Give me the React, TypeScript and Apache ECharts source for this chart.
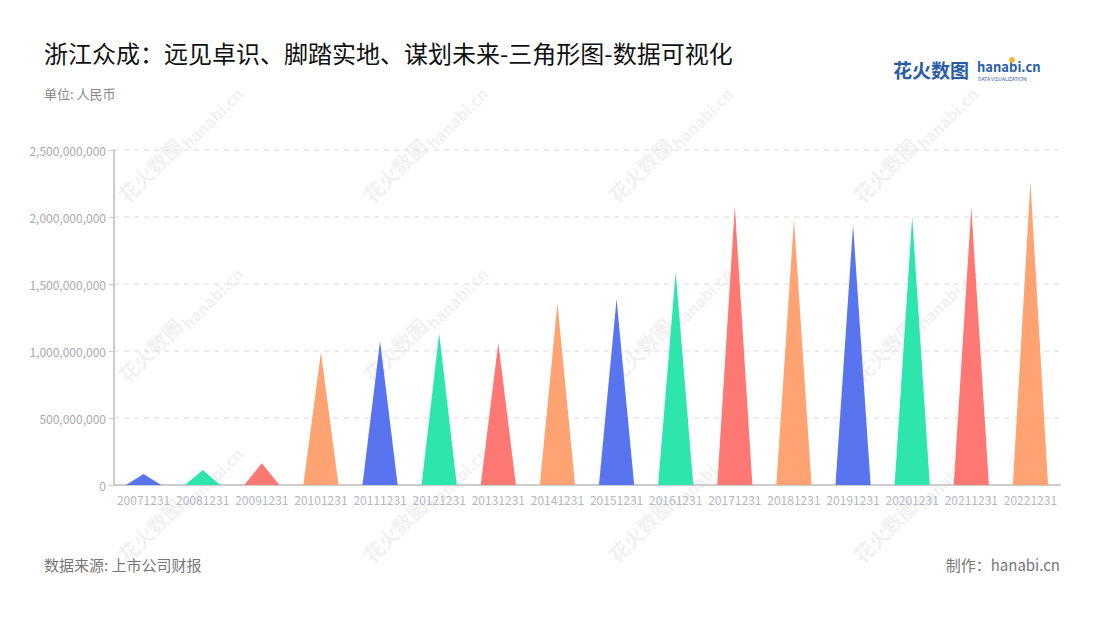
import React, { useEffect, useRef } from "react";
import * as echarts from "echarts";

const categories = [
  "20071231", "20081231", "20091231", "20101231", "20111231", "20121231",
  "20131231", "20141231", "20151231", "20161231", "20171231", "20181231",
  "20191231", "20201231", "20211231", "20221231",
];
const values = [
  82000000, 112000000, 162000000, 990000000, 1075000000, 1132000000,
  1062000000, 1358000000, 1388000000, 1590000000, 2082000000, 1983000000,
  1940000000, 2007000000, 2072000000, 2263000000,
];
const palette = ["#5874EE", "#2EE6AD", "#FF7873", "#FFA372"];

const titleText = "浙江众成：远见卓识、脚踏实地、谋划未来-三角形图-数据可视化";
const unitText = "单位: 人民币";
const sourceText = "数据来源: 上市公司财报";
const makerText = "制作：hanabi.cn";

const FONT = '"Noto Sans CJK SC", "Noto Sans", sans-serif';

function watermarks(): any[] {
  const out: any[] = [];
  const xs = [150, 395, 640, 885];
  const ys = [170, 350, 530];
  for (const x of xs) {
    for (const y of ys) {
      out.push({
        type: "text",
        x,
        y,
        rotation: Math.PI / 4,
        z: 0,
        silent: true,
        style: {
          text: "花火数图",
          fill: "rgba(200,200,200,0.25)",
          font: `bold 20px ${FONT}`,
          align: "center",
          verticalAlign: "middle",
        },
      });
      out.push({
        type: "text",
        x: x + 62,
        y: y - 52,
        rotation: Math.PI / 4,
        z: 0,
        silent: true,
        style: {
          text: "hanabi.cn",
          fill: "rgba(200,200,200,0.25)",
          font: `bold 16px ${FONT}`,
          align: "center",
          verticalAlign: "middle",
        },
      });
    }
  }
  return out;
}

export default function App() {
  const ref = useRef<HTMLDivElement>(null);
  useEffect(() => {
    if (!ref.current) return;
    const chart = echarts.init(ref.current, undefined, { renderer: "svg" });
    chart.setOption({
      animation: false,
      backgroundColor: "#ffffff",
      grid: { left: 114, right: 40, top: 150, bottom: 135 },
      xAxis: {
        type: "category",
        data: categories,
        axisLine: { lineStyle: { color: "#cccccc", width: 2 } },
        axisTick: { alignWithLabel: true, lineStyle: { color: "#cccccc" } },
        axisLabel: { color: "#b4b7c2", fontSize: 12, margin: 8, interval: 0, fontFamily: FONT },
      },
      yAxis: {
        type: "value",
        min: 0,
        max: 2500000000,
        interval: 500000000,
        axisLine: { show: true, lineStyle: { color: "#cccccc", width: 2 } },
        axisTick: { show: true, lineStyle: { color: "#cccccc" } },
        axisLabel: {
          color: "#aaaaaa",
          fontSize: 12,
          fontFamily: FONT,
          formatter: (v: number) => v.toLocaleString("en-US"),
        },
        splitLine: { lineStyle: { color: "#e6e6e6", type: [5, 5], width: 1.5 } },
      },
      series: [
        {
          type: "pictorialBar",
          symbol: "triangle",
          symbolSize: [35, "100%"],
          z: 10,
          data: values.map((v, i) => ({
            value: v,
            itemStyle: { color: palette[i % palette.length] },
          })),
        },
      ],
      graphic: [
        ...watermarks(),
        {
          type: "text",
          left: 44,
          top: 40,
          z: 100,
          style: { text: titleText, fill: "#111111", font: `24px ${FONT}` },
        },
        {
          type: "text",
          left: 44,
          top: 87,
          z: 100,
          style: { text: unitText, fill: "#888888", font: `13px ${FONT}` },
        },
        {
          type: "text",
          left: 44,
          top: 557,
          z: 100,
          style: { text: sourceText, fill: "#777777", font: `15px ${FONT}` },
        },
        {
          type: "text",
          right: 40,
          top: 557,
          z: 100,
          style: { text: makerText, fill: "#777777", font: `15px ${FONT}` },
        },
        {
          type: "text",
          left: 893,
          top: 60,
          z: 100,
          style: { text: "花火数图", fill: "#2a5ca8", font: `bold 19px ${FONT}` },
        },
        {
          type: "text",
          left: 977,
          top: 60,
          z: 100,
          style: { text: "hanabi.cn", fill: "#2a5ca8", font: `bold 13px ${FONT}` },
        },
        {
          type: "text",
          left: 978,
          top: 76,
          z: 100,
          style: { text: "DATA VISUALIZATION", fill: "#2a5ca8", font: `5px ${FONT}` },
        },
        {
          type: "circle",
          shape: { cx: 1012, cy: 60, r: 3 },
          z: 100,
          style: { fill: "#f7b733" },
        },
      ],
    });
    return () => chart.dispose();
  }, []);
  return (
    <div
      ref={ref}
      style={{ position: "absolute", left: 0, top: 0, width: 1100, height: 620 }}
    />
  );
}
